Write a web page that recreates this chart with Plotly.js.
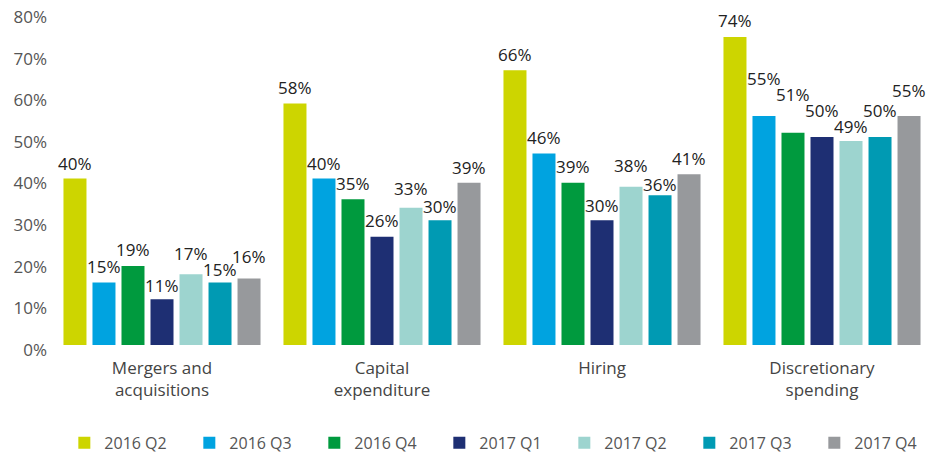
<!DOCTYPE html>
<html>
<head>
<meta charset="utf-8">
<script src="https://cdn.plot.ly/plotly-3.0.1.min.js"></script>
<style>html,body{margin:0;padding:0;background:#fff;}#chart{width:938px;height:457px;}</style>
</head>
<body>
<div id="chart"></div>
<script>
const categories = ["Mergers and<br>acquisitions", "Capital<br>expenditure", "Hiring", "Discretionary<br>spending"];
const seriesNames = ["2016 Q2", "2016 Q3", "2016 Q4", "2017 Q1", "2017 Q2", "2017 Q3", "2017 Q4"];
const q2_2016 = [40, 58, 66, 74];
const q3_2016 = [15, 40, 46, 55];
const q4_2016 = [19, 35, 39, 51];
const q1_2017 = [11, 26, 30, 50];
const q2_2017 = [17, 33, 38, 49];
const q3_2017 = [15, 30, 36, 50];
const q4_2017 = [16, 39, 41, 55];
const seriesValues = [q2_2016, q3_2016, q4_2016, q1_2017, q2_2017, q3_2017, q4_2017];
const yTicks = [0, 10, 20, 30, 40, 50, 60, 70, 80];

// styling (not data): colours and label lift above bar top in px
const colors = ["#CDD500", "#00A3E0", "#009A3E", "#1E2F73", "#9DD4CF", "#009AB3", "#97999C"];
const labelLift = [
  [15, 16, 16, 16],
  [16, 15, 16, 38],
  [16, 16, 16, 38],
  [14, 16, 15, 26],
  [21, 19, 21, 15],
  [13, 14, 11, 26],
  [22, 15, 16, 26]
];

const W = 938, H = 457;
const margin = {l: 52, r: 6, t: 12, b: 112};
const bargap = 0.077, bargroupgap = 0.207;
const plotW = W - margin.l - margin.r;
const slotPx = plotW / categories.length * (1 - bargap) / seriesNames.length;

const traces = seriesNames.map((name, i) => ({
  type: "bar",
  name: name,
  x: categories,
  y: seriesValues[i],
  marker: {color: colors[i]},
  hoverinfo: "none"
}));

const annotations = [];
seriesValues.forEach((vals, i) => {
  vals.forEach((v, j) => {
    annotations.push({
      x: categories[j], y: v, xref: "x", yref: "y",
      text: v + "%", showarrow: false,
      xanchor: "center", yanchor: "middle",
      xshift: (i - (seriesNames.length - 1) / 2) * slotPx,
      yshift: labelLift[i][j],
      font: {family: "Open Sans", size: 17, color: "#222"}
    });
  });
});

const layout = {
  width: W, height: H,
  margin: margin,
  paper_bgcolor: "#fff", plot_bgcolor: "#fff",
  barmode: "group",
  bargap: bargap,
  bargroupgap: bargroupgap,
  font: {family: "Open Sans", size: 16, color: "#555"},
  showlegend: true,
  legend: {
    orientation: "h", xref: "container", yref: "container",
    x: 0.535, xanchor: "center", y: 0.031, yanchor: "middle",
    font: {family: "Open Sans", size: 16, color: "#555"},
    entrywidth: 80, traceorder: "normal"
  },
  annotations: annotations,
  xaxis: {
    showgrid: false, zeroline: false, showline: false,
    ticks: "", ticklabelstandoff: 11,
    tickfont: {family: "Open Sans", size: 17, color: "#444"}
  },
  yaxis: {
    range: [0, 80], showgrid: false, zeroline: false, showline: false,
    tickvals: yTicks, ticktext: yTicks.map(v => v + "%"),
    ticks: "", ticklabelshift: 5, ticklabelstandoff: 4,
    tickfont: {family: "Open Sans", size: 17, color: "#555"}
  }
};

Plotly.newPlot("chart", traces, layout, {displayModeBar: false, staticPlot: true});
</script>
</body>
</html>
